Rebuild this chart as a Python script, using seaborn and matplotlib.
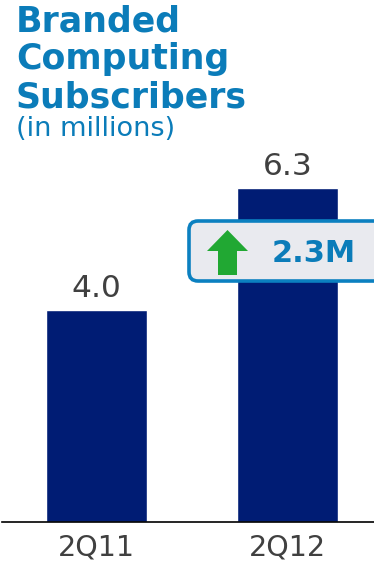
import matplotlib
matplotlib.use("Agg")
import matplotlib.pyplot as plt
from matplotlib.patches import FancyBboxPatch, Polygon
import seaborn as sns
import pandas as pd

quarters = ["2Q11", "2Q12"]
subscribers = [4.0, 6.3]
growth_label = "2.3M"

BAR = "#001C74"
BLUE = "#0B7CB9"
GRAY = "#404040"

sns.set_theme(style="white")
plt.rcParams["font.family"] = ["DejaVu Sans"]

W, H = 374, 562
fig = plt.figure(figsize=(W / 100, H / 100), dpi=100)

# chart axes: baseline at y=522 px, top at y=140 px
ax = fig.add_axes([2 / W, (H - 522) / H, 372 / W, 382 / H])
df = pd.DataFrame({"quarter": quarters, "subs": subscribers})
sns.barplot(data=df, x="quarter", y="subs", color=BAR, saturation=1,
            width=0.53, ax=ax)
ax.set_xlim(-0.495, 1.453)
ax.set_ylim(0, 382 / 53)
for s in ["top", "right", "left"]:
    ax.spines[s].set_visible(False)
ax.spines["bottom"].set_color("black")
ax.spines["bottom"].set_linewidth(1.2)
ax.set_yticks([])
ax.set_xlabel("")
ax.set_ylabel("")
ax.tick_params(axis="x", length=0, pad=8, labelsize=20.5, labelcolor=GRAY)
for bar, v in zip(ax.patches, subscribers):
    ax.annotate(f"{v:.1f}", (bar.get_x() + bar.get_width() / 2, v),
                xytext=(0, 5), textcoords="offset points",
                ha="center", va="bottom", fontsize=22.5, color=GRAY)

# overlay in pixel coordinates for title and callout
ov = fig.add_axes([0, 0, 1, 1])
ov.set_xlim(0, W)
ov.set_ylim(H, 0)
ov.axis("off")
ov.patch.set_alpha(0)

for txt, y in [("Branded", 21), ("Computing", 59), ("Subscribers", 97)]:
    ov.text(16, y, txt, fontsize=25, fontweight="bold", color=BLUE,
            ha="left", va="center")
ov.text(16, 129, "(in millions)", fontsize=19.5, color=BLUE,
        ha="left", va="center")

box = FancyBboxPatch((189, 221), 200, 60,
                     boxstyle="round,pad=0,rounding_size=9",
                     facecolor="#E9EAEF", edgecolor="#0B80C0", linewidth=2.6,
                     clip_on=True)
ov.add_patch(box)
arrow = Polygon([(227.5, 230), (248, 251), (237, 251), (237, 275),
                 (218, 275), (218, 251), (207, 251)],
                closed=True, facecolor="#21A833", edgecolor="none")
ov.add_patch(arrow)
ov.text(314, 253, growth_label, fontsize=22, fontweight="bold", color=BLUE,
        ha="center", va="center")

fig.savefig("out.png", dpi=100)
